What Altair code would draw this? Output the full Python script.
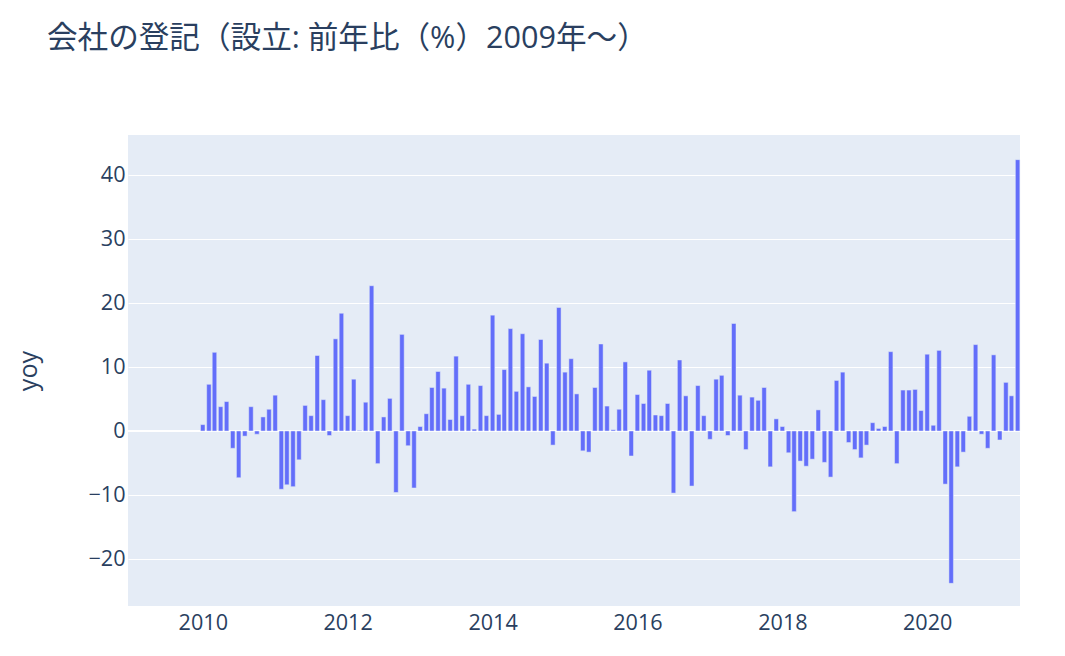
import altair as alt
import pandas as pd

start_month = "2010-01-01"
yoy = [
    1.0, 7.3, 12.3, 3.8, 4.6, -2.7, -7.3, -0.8, 3.8, -0.5, 2.2, 3.4,
    5.6, -9.1, -8.4, -8.7, -4.5, 4.0, 2.4, 11.8, 4.9, -0.7, 14.4, 18.4,
    2.4, 8.1, 0.1, 4.5, 22.7, -5.1, 2.2, 5.1, -9.6, 15.1, -2.3, -8.9,
    0.7, 2.7, 6.8, 9.3, 6.7, 1.8, 11.7, 2.4, 7.3, 0.3, 7.1, 2.4,
    18.1, 2.6, 9.6, 16.0, 6.2, 15.2, 6.9, 5.4, 14.3, 10.6, -2.2, 19.3,
    9.2, 11.3, 5.8, -3.1, -3.3, 6.8, 13.6, 3.9, 0.2, 3.4, 10.8, -3.9,
    5.7, 4.3, 9.5, 2.5, 2.4, 4.3, -9.7, 11.1, 5.5, -8.6, 7.1, 2.4,
    -1.3, 8.1, 8.7, -0.7, 16.8, 5.6, -2.9, 5.3, 4.8, 6.8, -5.6, 1.9,
    0.7, -3.4, -12.6, -4.7, -5.5, -4.4, 3.3, -4.9, -7.2, 7.9, 9.2, -1.8,
    -2.9, -4.2, -2.2, 1.3, 0.4, 0.7, 12.4, -5.1, 6.4, 6.4, 6.5, 3.2,
    12.0, 0.9, 12.6, -8.3, -23.8, -5.6, -3.3, 2.3, 13.5, -0.5, -2.7, 11.9,
    -1.4, 7.6, 5.5, 42.4,
]
y_ticks = [-20, -10, 0, 10, 20, 30, 40]

dates = pd.date_range(start_month, periods=len(yoy), freq="MS")
df = pd.DataFrame({"date": dates.strftime("%Y-%m-%dT00:00:00Z"), "yoy": yoy})

def ms(s):
    return int(pd.Timestamp(s, tz="UTC").value // 1_000_000)

x_domain = [ms("2008-12-20"), ms("2021-04-13")]
y_domain = [-27.34, 46.25]

FONT = "Open Sans, Noto Sans CJK JP"
TXT = "#2a3f5f"

x = alt.X(
    "date:T",
    scale=alt.Scale(type="utc", domain=x_domain, padding=0),
    axis=alt.Axis(
        title=None, format="%Y", tickCount={"interval": "year", "step": 2},
        grid=False, ticks=False, tickSize=0, domain=False,
        labelFontSize=21.6, labelColor=TXT, labelFont=FONT, labelPadding=6,
        labelFlush=False,
    ),
)
y = alt.Y(
    "yoy:Q",
    scale=alt.Scale(domain=y_domain, nice=False, zero=False, padding=0),
    axis=alt.Axis(
        title="yoy", values=y_ticks, grid=True, gridColor="white", gridWidth=1,
        ticks=False, tickSize=0, domain=False,
        labelFontSize=21.6, labelColor=TXT, labelFont=FONT, labelPadding=3,
        labelExpr="replace(datum.label, '-', '\u2212')",
        titleFontSize=25.2, titleColor=TXT, titleFont=FONT, titleFontWeight="normal",
        titleAngle=-90, titleX=-92, titleY=235.5, titleAlign="center",
        titleBaseline="alphabetic",
    ),
)

zero = alt.Chart(pd.DataFrame({"z": [0]})).mark_rule(color="white", strokeWidth=2).encode(
    y=alt.Y("z:Q", scale=alt.Scale(domain=y_domain, nice=False, zero=False, padding=0))
)

bars = alt.Chart(df).mark_bar(
    color="#636EFA", width=4.5, stroke="#E5ECF6", strokeWidth=0.5
).encode(x=x, y=y)

chart = alt.layer(zero, bars).properties(
    width=892, height=471,
    title=alt.TitleParams(
        "会社の登記（設立: 前年比（%）2009年～）",
        anchor="start", frame="group", dx=-81, offset=80,
        fontSize=30.6, color=TXT, font=FONT, fontWeight="normal",
    ),
    autosize=alt.AutoSizeParams(type="none"),
    padding={"left": 120, "top": 127, "right": 29, "bottom": 40},
).configure_view(fill="#E5ECF6", stroke=None)

chart.save("out.html", embed_options={"renderer": "svg", "actions": False})
